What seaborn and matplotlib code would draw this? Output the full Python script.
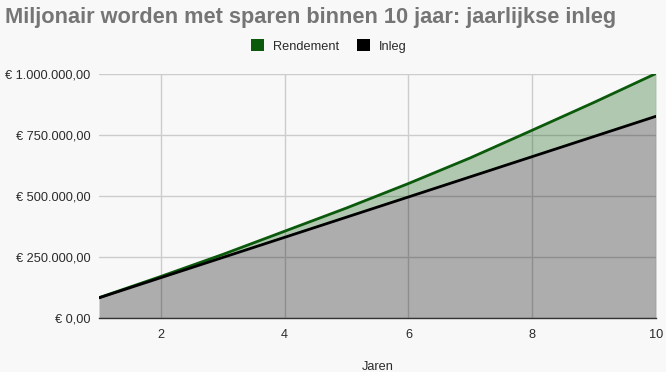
import matplotlib
matplotlib.use("Agg")
import matplotlib.pyplot as plt
import seaborn as sns
import pandas as pd
from matplotlib.patches import Patch
from matplotlib.ticker import FuncFormatter

jaren = [1, 2, 3, 4, 5, 6, 7, 8, 9, 10]
inleg = [82500, 165000, 247500, 330000, 412500, 495000, 577500, 660000, 742500, 825000]
rendement = [83000, 170000, 260000, 355000, 450000, 550000, 655000, 768000, 882000, 1000000]
x_ticks = [2, 4, 6, 8, 10]
y_ticks = [0, 250000, 500000, 750000, 1000000]

title = "Miljonair worden met sparen binnen 10 jaar: jaarlijkse inleg"
green = "#0b5a0b"
bg = "#f8f8f8"

sns.set_theme(style="white")
plt.rcParams['font.family'] = ['Liberation Sans', 'DejaVu Sans']

df = pd.DataFrame({"Jaren": jaren, "Inleg": inleg, "Rendement": rendement})

fig = plt.figure(figsize=(6.66, 3.72), dpi=100, facecolor=bg)
ax = fig.add_axes([99/666, 1-318/372, 557/666, (318-73.5)/372])
ax.set_facecolor(bg)

ax.fill_between(df["Jaren"], 0, df["Inleg"], color="black", alpha=0.3, lw=0, zorder=2)
ax.fill_between(df["Jaren"], df["Inleg"], df["Rendement"], color=green, alpha=0.3, lw=0, zorder=2)
sns.lineplot(data=df, x="Jaren", y="Rendement", color=green, lw=2, ax=ax, zorder=3)
sns.lineplot(data=df, x="Jaren", y="Inleg", color="black", lw=2, ax=ax, zorder=3)

ax.set_xlim(1, 10)
ax.set_ylim(0, 1000000)
ax.set_xticks(x_ticks)
ax.set_yticks(y_ticks)

def euro(v, pos):
    s = f"{v:,.2f}".replace(",", "X").replace(".", ",").replace("X", ".")
    return "€ " + s

ax.yaxis.set_major_formatter(FuncFormatter(euro))
ax.grid(True, color="#cccccc", lw=1, zorder=1)
ax.set_axisbelow(True)
for s in ["top", "right", "left"]:
    ax.spines[s].set_visible(False)
ax.spines["bottom"].set_color("#333333")
ax.spines["bottom"].set_linewidth(1)
ax.spines["bottom"].set_zorder(4)
ax.tick_params(axis="both", length=0, labelsize=9.2, labelcolor="#2a2a2a")
ax.tick_params(axis="y", pad=6)
ax.tick_params(axis="x", pad=8)
ax.set_xlabel("Jaren", fontsize=9.2, color="#2a2a2a", labelpad=14)
ax.set_ylabel("")

fig.text(5/666, 1-17/372, title, fontsize=15.7, fontweight="bold", color="#757575", va="center", ha="left")

handles = [Patch(facecolor="#0b5a0b", edgecolor="none"), Patch(facecolor="black", edgecolor="none")]
fig.legend(handles, ["Rendement", "Inleg"], loc="center", bbox_to_anchor=(329/666, 1-46/372),
           ncol=2, frameon=False, fontsize=9.2, handlelength=1.0, handleheight=1.0,
           columnspacing=1.4, handletextpad=0.7, labelcolor="#2a2a2a")

fig.savefig("out.png", dpi=100, facecolor=bg)
